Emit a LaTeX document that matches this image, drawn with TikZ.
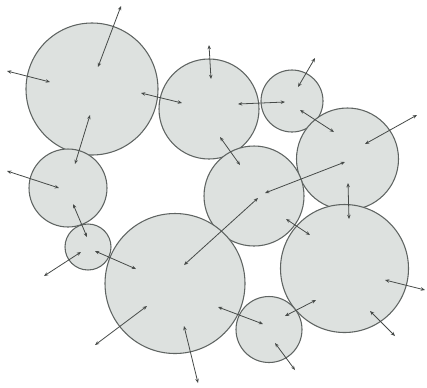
\documentclass[tikz,border=0pt]{standalone}
\usetikzlibrary{arrows.meta}
\definecolor{ballfill}{RGB}{221,225,223}
\definecolor{ballline}{RGB}{95,100,98}
\definecolor{arrowcol}{RGB}{70,74,72}
\tikzset{
  ball/.style={circle, draw=ballline, fill=ballfill, line width=0.8pt, inner sep=0pt},
  vec/.style={draw=arrowcol, line width=0.6pt,
    {Stealth[length=3.2pt,width=2.6pt]}-{Stealth[length=3.2pt,width=2.6pt]}}
}
\begin{document}
\begin{tikzpicture}[x=0.75pt,y=-0.75pt]
\useasboundingbox (0,0) rectangle (427,387);
% circles
\node[ball, minimum size=99pt]   (A) at (92,89) {};
\node[ball, minimum size=75pt]   (B) at (209,109) {};
\node[ball, minimum size=46.5pt] (C) at (292,101) {};
\node[ball, minimum size=76.5pt] (D) at (347.5,159) {};
\node[ball, minimum size=75pt]   (E) at (254,196) {};
\node[ball, minimum size=58.5pt] (F) at (68,188) {};
\node[ball, minimum size=34.5pt] (G) at (88,247) {};
\node[ball, minimum size=105pt]  (H) at (175,283.5) {};
\node[ball, minimum size=96pt]   (I) at (344.5,268.5) {};
\node[ball, minimum size=49.5pt] (J) at (269,329.5) {};
% arrow end points
\coordinate (a1) at (98,67);   \coordinate (b1) at (121,6);
\coordinate (a2) at (50,82);   \coordinate (b2) at (7,71);
\coordinate (a3) at (141,93);  \coordinate (b3) at (182,103);
\coordinate (a4) at (90,115);  \coordinate (b4) at (75,164);
\coordinate (a5) at (59,188);  \coordinate (b5) at (7,171);
\coordinate (a6) at (211,79);  \coordinate (b6) at (209,45);
\coordinate (a7) at (238,104); \coordinate (b7) at (285,102);
\coordinate (a8) at (298,87);  \coordinate (b8) at (315,58);
\coordinate (a9) at (300,110); \coordinate (b9) at (334,132);
\coordinate (a10) at (365,144); \coordinate (b10) at (417,115);
\coordinate (a11) at (220,137); \coordinate (b11) at (240,165);
\coordinate (a12) at (265,193); \coordinate (b12) at (345,162);
\coordinate (a13) at (348,183); \coordinate (b13) at (349,219);
\coordinate (a14) at (73,204);  \coordinate (b14) at (87,237);
\coordinate (a15) at (81,252);  \coordinate (b15) at (44,276);
\coordinate (a16) at (95,251);  \coordinate (b16) at (136,269);
\coordinate (a17) at (184,265); \coordinate (b17) at (258,198);
\coordinate (a18) at (147,306); \coordinate (b18) at (95,345);
\coordinate (a19) at (184,326); \coordinate (b19) at (198,383);
\coordinate (a20) at (286,219); \coordinate (b20) at (310,235);
\coordinate (a21) at (385,280); \coordinate (b21) at (425,290);
\coordinate (a22) at (370,311); \coordinate (b22) at (395,336);
\coordinate (a23) at (285,316); \coordinate (b23) at (316,300);
\coordinate (a24) at (218,307); \coordinate (b24) at (263,324);
\coordinate (a25) at (275,343); \coordinate (b25) at (295,370);
% arrows
\foreach \i in {1,...,25} { \draw[vec] (a\i) -- (b\i); }
\end{tikzpicture}
\end{document}
